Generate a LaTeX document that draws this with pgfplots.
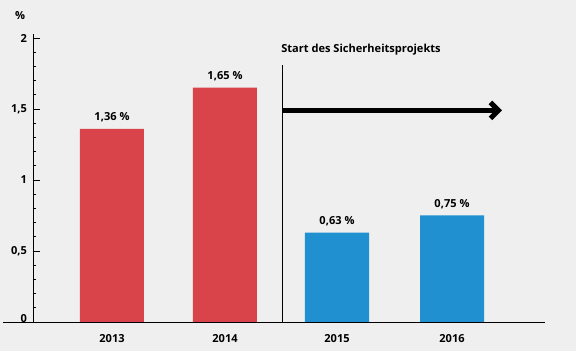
\documentclass[border=0pt]{standalone}
\usepackage{pgfplots}
\pgfplotsset{compat=1.18}
\usepackage{fontspec}
\setmainfont{Open Sans}
\usetikzlibrary{arrows.meta}
\definecolor{bg}{HTML}{EFEFEF}
\definecolor{barred}{HTML}{D9444A}
\definecolor{barblue}{HTML}{2190D0}
\begin{document}
\begin{tikzpicture}[font=\fontsize{8.3}{10}\selectfont\bfseries]
\fill[bg] (-24.75pt,-21.75pt) rectangle (407.25pt,241.5pt);
\begin{axis}[
  scale only axis,
  width=384pt, height=216.2pt,
  xmin=33, xmax=545, ymin=0, ymax=2.03,
  axis y line=left, axis x line=bottom,
  x axis line style={draw=none},
  y axis line style={-, line width=0.6pt},
  clip=false,
  xtick={112,225,337,452},
  xticklabels={2013,2014,2015,2016},
  major x tick style={draw=none},
  xticklabel style={yshift=-6pt},
  ytick={0,0.5,1,1.5,2},
  yticklabels={{\raisebox{5pt}{0}},{0,5},1,{1,5},2},
  minor y tick num=4,
  tick align=inside,
  major tick length=5.5pt,
  minor tick length=2pt,
  every tick/.style={black, line width=0.6pt},
  yticklabel style={xshift=-1pt},
  nodes near coords={\pgfmathprintnumber[assume math mode=true,use comma,fixed,precision=2,fixed zerofill]{\pgfplotspointmeta} \%},
  every node near coord/.style={font=\fontsize{8.3}{10}\selectfont\bfseries, black, yshift=1.5pt},
]
\addplot[ybar, bar width=64, fill=barred, draw=none] coordinates {(112,1.36) (225,1.65)};
\addplot[ybar, bar width=64, fill=barblue, draw=none] coordinates {(337,0.63) (452,0.75)};
\draw[line width=0.6pt] (axis cs:3,0) -- (axis cs:545,0);
\draw[line width=0.6pt] (axis cs:282,0) -- (axis cs:282,1.81);
\draw[line width=3.8pt, -{Straight Barb[length=6pt,width=12pt]}] (axis cs:282,1.49) -- (axis cs:502,1.49);
\node[anchor=west, inner sep=0pt] at (axis cs:281,1.915) {Start des Sicherheitsprojekts};
\node[inner sep=0pt] at (axis cs:20,2.16) {\%};
\end{axis}
\pgfresetboundingbox
\path (-24.75pt,-21.75pt) rectangle (407.25pt,241.5pt);
\end{tikzpicture}
\end{document}
